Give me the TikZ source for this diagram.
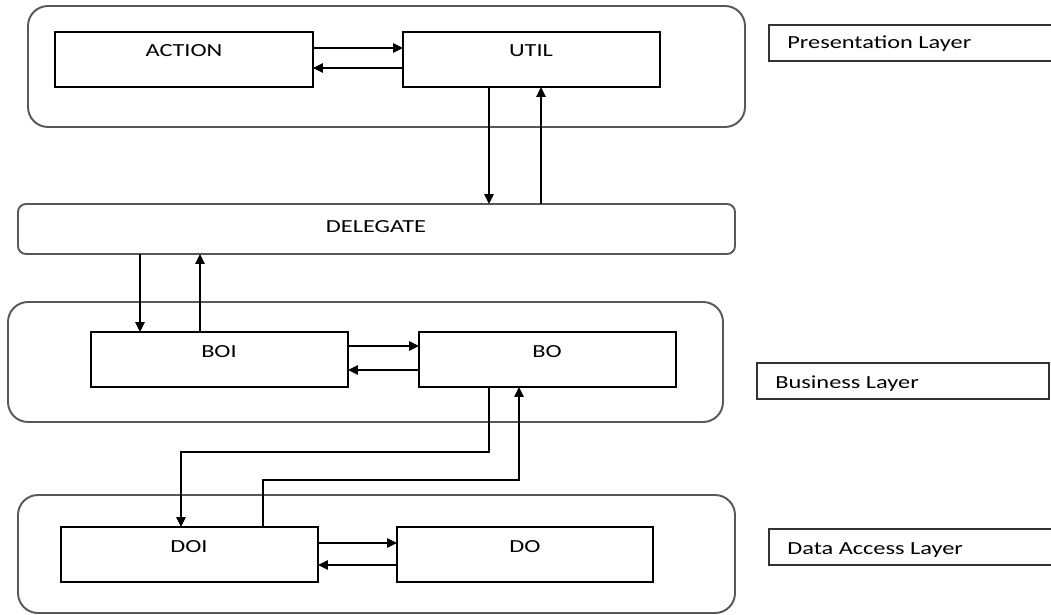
\documentclass[tikz,border=0pt]{standalone}
\usepackage{fontspec}
\setmainfont{Carlito}[FakeStretch=1.32]
\usetikzlibrary{arrows.meta}
\definecolor{layergray}{RGB}{88,88,88}
\tikzset{
  % place a node by its left, top, right and bottom edge (in pixel units)
  geom/.style args={#1/#2/#3/#4}{
    minimum width={(#3-#1)*0.02cm}, minimum height={(#4-#2)*0.02cm},
    at={({(#1+#3)/2},{(#2+#4)/2})}},
  layer/.style={draw=layergray, line width=1.1pt, rounded corners=0.4cm,
    inner sep=0pt, outer sep=0pt},
  strip/.style={draw=layergray, line width=1.1pt, rounded corners=0.16cm,
    inner sep=0pt, outer sep=0pt},
  unit/.style={draw=black, line width=0.7pt, inner sep=0pt, outer sep=0pt},
  tag/.style={draw=black!80, line width=0.7pt, inner sep=0pt, outer sep=0pt},
  txt/.style={inner sep=0pt, anchor=base, font=\fontsize{10.5}{12}\selectfont},
  tagtxt/.style={inner sep=0pt, anchor=base west, font=\fontsize{10.5}{12}\selectfont},
  arr/.style={draw=black, line width=0.7pt, -{Triangle[length=5.6pt,width=5.4pt]}}
}
\begin{document}
\begin{tikzpicture}[x=0.02cm, y=-0.02cm]
\useasboundingbox (0,0) rectangle (1051,615);

% layer frames
\node[layer, geom=28/6/745/127] (pres) {};
\node[strip, geom=18/204/735/254] (delegate) {};
\node[layer, geom=8/302/723/422] (bus) {};
\node[layer, geom=18/495/735/613] (data) {};

% components
\node[unit, geom=55/32/313/87] (action) {};
\node[unit, geom=403/32/660/87] (util) {};
\node[unit, geom=91/332/348/387] (boi) {};
\node[unit, geom=419/332/676/387] (bo) {};
\node[unit, geom=61/527/318/582] (doi) {};
\node[unit, geom=397/527/653/582] (do) {};

% component captions
\node[txt] (actiont) at (184,57) {ACTION};
\node[txt] (utilt) at (531,57) {UTIL};
\node[txt] (delegatet) at (376,232) {DELEGATE};
\node[txt] (boit) at (219,357) {BOI};
\node[txt] (bot) at (547,357) {BO};
\node[txt] (doit) at (189,552) {DOI};
\node[txt] (dot) at (525,552) {DO};

% layer tags on the right
\node[tag, geom=769/25/1055/61] (prestag) {};
\node[tag, geom=757/363/1049/399] (bustag) {};
\node[tag, geom=769/529/1055/565] (datatag) {};
\node[tagtxt] (prestagt) at (787,49) {Presentation Layer};
\node[tagtxt] (bustagt) at (775,388) {Business Layer};
\node[tagtxt] (datatagt) at (787,554) {Data Access Layer};

% presentation layer
\draw[arr] (action.east |- 0,48) -- (util.west |- 0,48);
\draw[arr] (util.west |- 0,68) -- (action.east |- 0,68);
\draw[arr] (util.south -| 489,0) -- (delegate.north -| 489,0);
\draw[arr] (delegate.north -| 541,0) -- (util.south -| 541,0);

% delegate to business layer
\draw[arr] (delegate.south -| 140,0) -- (boi.north -| 140,0);
\draw[arr] (boi.north -| 200,0) -- (delegate.south -| 200,0);

% business layer
\draw[arr] (boi.east |- 0,346) -- (bo.west |- 0,346);
\draw[arr] (bo.west |- 0,370) -- (boi.east |- 0,370);

% business to data access layer
\draw[arr] (bo.south -| 489,0) -- (489,452) -| (doi.north -| 181,0);
\draw[arr] (doi.north -| 263,0) -- (263,480) -| (bo.south -| 519,0);

% data access layer
\draw[arr] (doi.east |- 0,543) -- (do.west |- 0,543);
\draw[arr] (do.west |- 0,565) -- (doi.east |- 0,565);
\end{tikzpicture}
\end{document}
